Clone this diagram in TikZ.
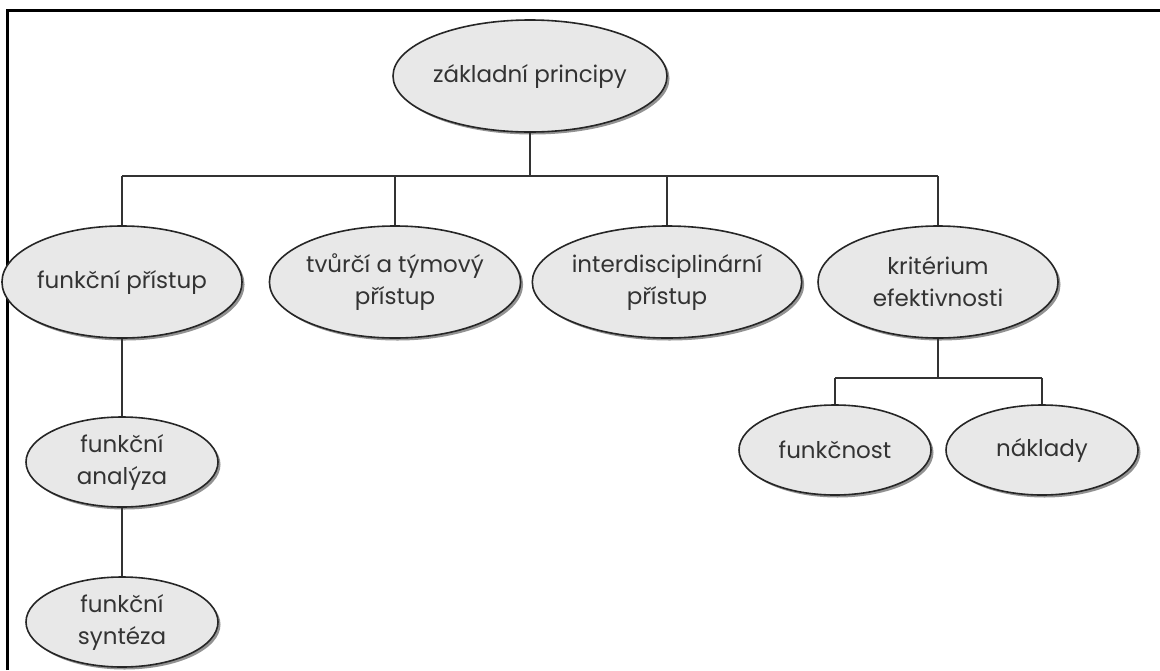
\documentclass[tikz,border=0pt]{standalone}
\usepackage{fontspec}
\setmainfont{Poppins}
\usetikzlibrary{shapes.geometric,shadows}
\begin{document}
\begin{tikzpicture}[x=1pt,y=-1pt,
  bubble/.style={ellipse, draw=black!85, line width=1.6pt, fill=black!9,
    inner sep=0pt, align=center, text=black!80,
    font=\fontsize{23}{32}\selectfont,
    drop shadow={shadow xshift=2.5pt, shadow yshift=-2.5pt, fill=black!50, opacity=0.85}},
  big/.style={bubble, minimum width=240pt, minimum height=112pt},
  small/.style={bubble, minimum width=192pt, minimum height=90pt},
  link/.style={draw=black!80, line width=1.6pt}]
\useasboundingbox (0,0) rectangle (1160,670);
\fill[white] (0,0) rectangle (1160,670);

% frame edges
\draw[line width=3pt] (7,670) -- (7,10) -- (1160,10);

% rails of the tree
\coordinate (bar) at (0,176);
\coordinate (subbar) at (0,378);

% root
\node[big] (root) at (530,76) {základní principy};

% first level
\node[big] (fp) at (122,282) {funkční přístup};
\node[big] (tp) at (395,282) {tvůrčí a týmový\\přístup};
\node[big] (ip) at (667,282) {interdisciplinární\\přístup};
\node[big] (ke) at (938,282) {kritérium\\efektivnosti};

% branch under the functional approach
\node[small] (fa) at (122,462) {funkční\\analýza};
\node[small] (fs) at (122,622) {funkční\\syntéza};

% branch under the efficiency criterion
\node[small] (fn) at (835,450) {funkčnost};
\node[small] (nk) at (1042,450) {náklady};

% connectors
\draw[link] (root) -- (root |- bar);
\draw[link] (fp |- bar) -- (ke |- bar);
\foreach \n in {fp,tp,ip,ke} \draw[link] (\n |- bar) -- (\n);
\draw[link] (fp) -- (fa);
\draw[link] (fa) -- (fs);
\draw[link] (ke) -- (ke |- subbar);
\draw[link] (fn |- subbar) -- (nk |- subbar);
\draw[link] (fn |- subbar) -- (fn);
\draw[link] (nk |- subbar) -- (nk);
\end{tikzpicture}
\end{document}
